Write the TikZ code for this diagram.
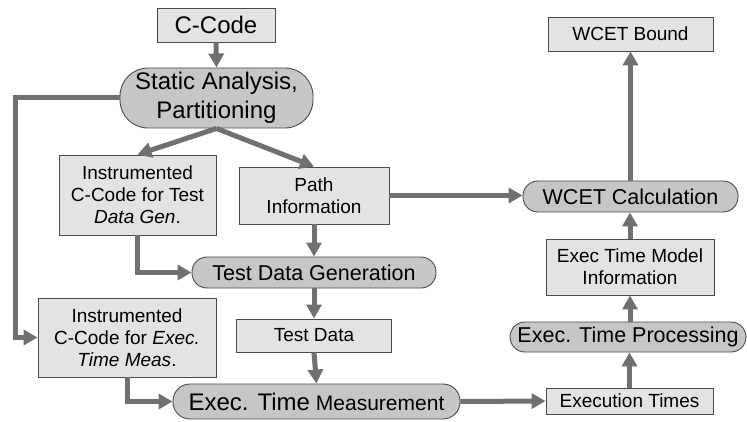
\documentclass[tikz,border=0pt]{standalone}
\usepackage{fontspec}
\setmainfont{Liberation Sans}
\usetikzlibrary{arrows.meta}
\definecolor{boxfill}{HTML}{E3E3E3}
\definecolor{procfill}{HTML}{C6C6C6}
\definecolor{edge}{HTML}{4A4A4A}
\definecolor{arrowgray}{HTML}{707070}
\tikzset{
  databox/.style={draw=edge, line width=0.9pt, fill=boxfill, inner sep=0pt, align=center,
    font=\fontsize{19}{22}\selectfont},
  procbox/.style={draw=edge, line width=0.9pt, fill=procfill, inner sep=0pt, align=center,
    rounded corners=15pt, font=\fontsize{21.5}{26}\selectfont},
  arr/.style={draw=arrowgray, line width=5pt, -{Triangle[length=14pt,width=15pt]}},
}
\begin{document}
\begin{tikzpicture}[x=1pt,y=-1pt]
\useasboundingbox (0,0) rectangle (747,422);
% nodes
\node[databox, minimum width=118pt, minimum height=34pt, font=\fontsize{24}{28}\selectfont] (ccode) at (216,25) {C-Code};
\node[procbox, minimum width=193pt, minimum height=60pt, rounded corners=28pt, font=\fontsize{24}{29}\selectfont] (static) at (216.5,98) {Static Analysis,\\Partitioning};
\node[databox, minimum width=157pt, minimum height=80pt] (instT) at (137.5,195) {Instrumented\\C-Code for Test\\\textit{Data Gen}.};
\node[databox, minimum width=150pt, minimum height=57pt] (path) at (314,195.5) {Path\\Information};
\node[procbox, minimum width=244pt, minimum height=31pt] (tdg) at (314,272.5) {Test Data Generation};
\node[databox, minimum width=155pt, minimum height=33pt] (tdata) at (314,335.5) {Test Data};
\node[databox, minimum width=178pt, minimum height=79pt] (instE) at (127,337.5) {Instrumented\\C-Code for \textit{Exec.}\\\textit{Time Meas}.};
\node[procbox, minimum width=287pt, minimum height=35pt, rounded corners=17pt] (etm) at (316.5,401.5) {{\fontsize{24}{28}\selectfont Exec. Time} {\fontsize{21}{26}\selectfont Measurement}};
\node[databox, minimum width=167pt, minimum height=26pt] (exectimes) at (629.5,401) {Execution Times};
\node[procbox, minimum width=236pt, minimum height=30pt] (etp) at (628,337) {Exec. Time Processing};
\node[databox, minimum width=168pt, minimum height=56pt] (model) at (630,267) {Exec Time Model\\Information};
\node[procbox, minimum width=215pt, minimum height=31pt] (wcalc) at (630.5,196.5) {WCET Calculation};
\node[databox, minimum width=165pt, minimum height=34pt] (wbound) at (630.5,34) {WCET Bound};
% connectors
\draw[arr] (ccode.south) -- (static.north);
\draw[arr] (static.south) -- (instT.north);
\draw[arr] (static.south) -- (path.north);
\draw[arr] (static.west) -- ++(-104,0) |- (instE.west);
\draw[arr] (instT.south) |- (tdg.west);
\draw[arr] (path.south) -- (tdg.north);
\draw[arr] (tdg.south) -- (tdata.north);
\draw[arr] (tdata.south) -- (etm.north);
\draw[arr] (instE.south) |- (etm.west);
\draw[arr] (etm.east) -- (exectimes.west);
\draw[arr] (exectimes.north) -- (exectimes.north |- etp.south);
\draw[arr] (model.south |- etp.north) -- (model.south);
\draw[arr] (model.north) -- (model.north |- wcalc.south);
\draw[arr] (wcalc.north) -- (wbound.south);
\draw[arr] (path.east) -- (path.east -| wcalc.west);
\end{tikzpicture}
\end{document}
